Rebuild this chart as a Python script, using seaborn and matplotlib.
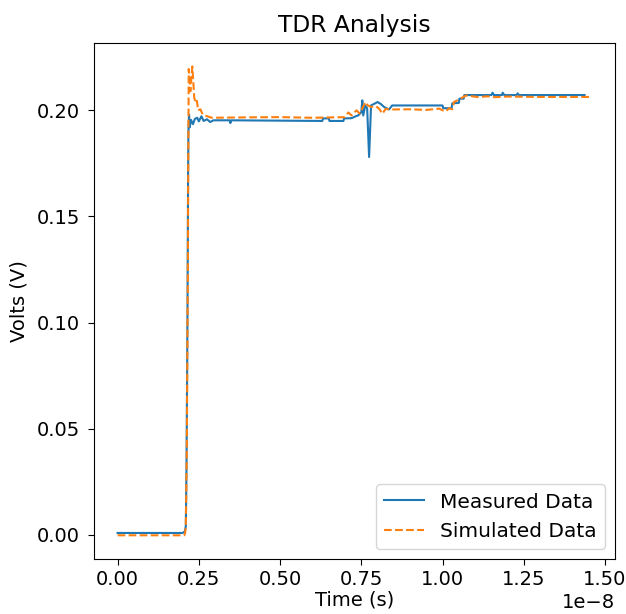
import numpy as np
import pandas as pd
import matplotlib
matplotlib.use('Agg')
import matplotlib.pyplot as plt
import seaborn as sns

# Measured data (time in ns, volts)
meas_t_ns = [0.0, 2.00, 2.07, 2.10, 2.12, 2.15, 2.17, 2.18, 2.20, 2.22, 2.26, 2.32,
             2.38, 2.45, 2.50, 2.58, 2.65, 2.75, 2.85, 2.95, 3.45, 3.47, 3.50,
             6.30, 6.32, 6.50, 6.52, 6.95, 6.97, 7.20, 7.30, 7.40, 7.50, 7.53,
             7.56, 7.62, 7.68, 7.74, 7.80, 7.90, 8.00, 8.10, 8.20, 8.35, 8.45,
             10.00, 10.02, 10.28, 10.30, 10.50, 10.52, 10.65, 10.67, 11.50, 11.54,
             11.58, 11.83, 11.85, 11.90, 12.28, 12.31, 12.35, 14.37]
meas_v = [0.0008, 0.0008, 0.0015, 0.004, 0.03, 0.10, 0.17, 0.19, 0.198, 0.192, 0.1955, 0.1935,
          0.196, 0.1965, 0.1948, 0.1972, 0.1950, 0.1958, 0.1945, 0.1953, 0.1953, 0.1940, 0.1953,
          0.1950, 0.1962, 0.1962, 0.1950, 0.1950, 0.1962, 0.1963, 0.1970, 0.1976, 0.1990, 0.2047,
          0.1976, 0.2023, 0.2010, 0.178, 0.2023, 0.2031, 0.2039, 0.2030, 0.2016, 0.2004, 0.2023,
          0.2023, 0.2010, 0.2010, 0.2033, 0.2035, 0.2055, 0.2055, 0.2072, 0.2072, 0.2083,
          0.2072, 0.2072, 0.2083, 0.2072, 0.2072, 0.2080, 0.2072, 0.2072]

# Simulated data (time in ns, volts)
sim_t_ns = [0.0, 2.05, 2.08, 2.10, 2.13, 2.16, 2.18, 2.19, 2.24, 2.30, 2.36, 2.40, 2.44,
            2.48, 2.55, 2.62, 2.70, 2.90, 4.00, 5.00, 6.00, 7.00, 7.10, 7.20, 7.35, 7.45,
            7.63, 7.70, 7.80, 7.95, 8.05, 8.15, 8.25, 8.40, 9.00, 9.50, 9.90, 10.00,
            10.10, 10.20, 10.30, 10.35, 10.55, 10.72, 11.08, 11.40, 11.60, 12.00, 13.00, 14.57]
sim_v = [-0.0003, -0.0003, 0.0008, 0.004, 0.04, 0.12, 0.19, 0.2195, 0.209, 0.2207, 0.206, 0.2035, 0.2045,
         0.2000, 0.2005, 0.1980, 0.1975, 0.1965, 0.1967, 0.1968, 0.1965, 0.1968, 0.1990, 0.1976, 0.2000, 0.1985,
         0.2039, 0.2023, 0.2016, 0.2020, 0.2007, 0.1984, 0.2007, 0.2004, 0.2005, 0.2002, 0.2008, 0.2000,
         0.1995, 0.2010, 0.2005, 0.2039, 0.2055, 0.2070, 0.2063, 0.2066, 0.2062, 0.2065, 0.2063, 0.2063]

meas = pd.DataFrame({'t': np.array(meas_t_ns) * 1e-9, 'v': meas_v})
sim = pd.DataFrame({'t': np.array(sim_t_ns) * 1e-9, 'v': sim_v})

plt.rcParams['font.size'] = 14

fig, ax = plt.subplots(figsize=(6.26, 6.14), dpi=100)
sns.lineplot(data=meas, x='t', y='v', ax=ax, color='#1f77b4', label='Measured Data', sort=False)
sns.lineplot(data=sim, x='t', y='v', ax=ax, color='#ff7f0e', linestyle='--', label='Simulated Data', sort=False)

ax.set_title('TDR Analysis', pad=8)
ax.set_xlabel('Time (s)', labelpad=1)
ax.set_ylabel('Volts (V)', labelpad=6)
ax.tick_params(axis='y', length=4.4, pad=5.5)
ax.tick_params(axis='x', length=4.0, pad=4.0)
ax.legend(loc='lower right', fontsize=14.5)

plt.subplots_adjust(left=0.150, right=0.982, top=0.930, bottom=0.090)
plt.savefig('out.png')
